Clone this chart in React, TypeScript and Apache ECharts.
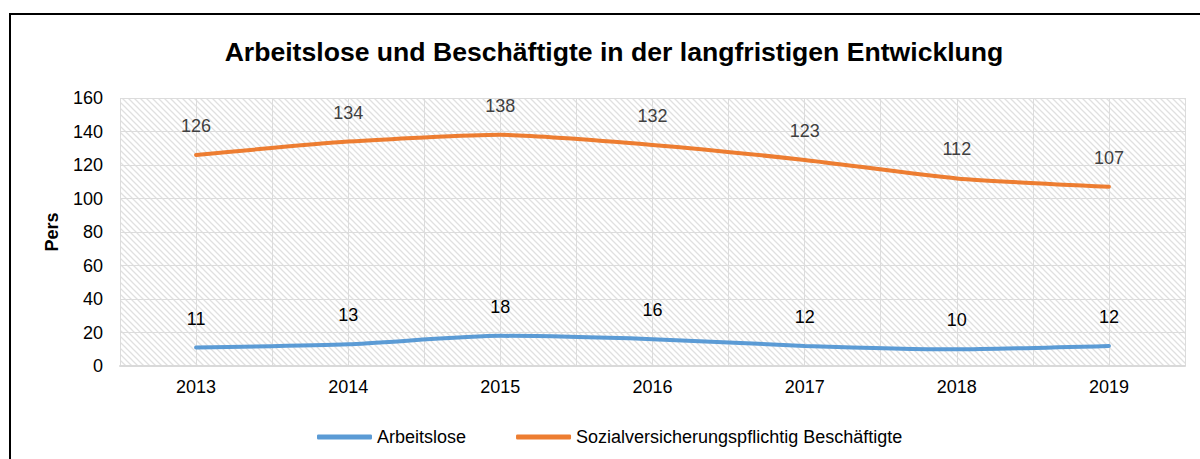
import React, { useEffect, useRef } from "react";
import * as echarts from "echarts";

const years = ["2013", "2014", "2015", "2016", "2017", "2018", "2019"];
const arbeitslose = [11, 13, 18, 16, 12, 10, 12];
const beschaeftigte = [126, 134, 138, 132, 123, 112, 107];
const titleText = "Arbeitslose und Beschäftigte in der langfristigen Entwicklung";
const yName = "Pers";
const seriesNames = ["Arbeitslose", "Sozialversicherungspflichtig Beschäftigte"];

const FONT = "'Liberation Sans', Arial, sans-serif";

const hatchSvg =
  "<svg xmlns='http://www.w3.org/2000/svg' width='6' height='6'>" +
  "<path d='M-1,-1 L7,7 M-1,5 L1,7 M5,-1 L7,1' stroke='#e0e0e0' stroke-width='1.3'/></svg>";
const hatchUrl = "data:image/svg+xml;charset=utf-8," + encodeURIComponent(hatchSvg);

export default function App() {
  const ref = useRef<HTMLDivElement>(null);
  useEffect(() => {
    if (!ref.current) return;
    const chart = echarts.init(ref.current, undefined, { renderer: "svg" });
    const labelCommon = {
      show: true,
      position: "top",
      distance: 20,
      fontFamily: FONT,
      fontSize: 18,
    };
    chart.setOption({
      animation: false,
      backgroundColor: "#ffffff",
      title: {
        text: titleText,
        left: 609,
        top: 33,
        textAlign: "center",
        textStyle: { fontFamily: FONT, fontSize: 26.6, fontWeight: "bold", color: "#000" },
      },
      legend: {
        left: 312,
        top: 423,
        itemWidth: 55,
        itemHeight: 5,
        itemGap: 50,
        icon: "roundRect",
        textStyle: { fontFamily: FONT, fontSize: 18, color: "#000" },
        data: seriesNames,
      },
      grid: {
        left: 120,
        right: 15,
        top: 98,
        height: 268,
        show: true,
        borderWidth: 0,
        backgroundColor: { image: hatchUrl, repeat: "repeat" } as any,
      },
      xAxis: [
        {
          type: "category",
          data: years,
          boundaryGap: true,
          axisLine: { show: true, lineStyle: { color: "#d9d9d9", width: 2 } },
          axisTick: { show: false },
          splitLine: { show: false },
          axisLabel: { fontFamily: FONT, fontSize: 18, color: "#000", margin: 12 },
        },
        {
          type: "value",
          min: 0,
          max: 14,
          interval: 1,
          position: "bottom",
          axisLine: { show: false },
          axisTick: { show: false },
          axisLabel: { show: false },
          splitLine: { show: true, lineStyle: { color: "#dcdcdc", width: 1 } },
        },
      ],
      yAxis: {
        type: "value",
        min: 0,
        max: 160,
        interval: 20,
        name: yName,
        nameLocation: "middle",
        nameGap: 59,
        nameRotate: 90,
        nameTextStyle: { fontFamily: FONT, fontSize: 18, fontWeight: "bold", color: "#000" },
        axisLine: { show: false },
        axisTick: { show: false },
        axisLabel: { fontFamily: FONT, fontSize: 18, color: "#000", margin: 17 },
        splitLine: { show: true, lineStyle: { color: "#dcdcdc", width: 1 } },
      },
      series: [
        {
          name: seriesNames[0],
          type: "line",
          data: arbeitslose,
          xAxisIndex: 0,
          smooth: 0.2,
          symbol: "circle",
          symbolSize: 0,
          showSymbol: true,
          lineStyle: { color: "#5b9bd5", width: 4, cap: "round" },
          itemStyle: { color: "#5b9bd5" },
          label: { ...labelCommon, color: "#000" },
        },
        {
          name: seriesNames[1],
          type: "line",
          data: beschaeftigte,
          xAxisIndex: 0,
          smooth: 0.2,
          symbol: "circle",
          symbolSize: 0,
          showSymbol: true,
          lineStyle: { color: "#ed7d31", width: 4, cap: "round" },
          itemStyle: { color: "#ed7d31" },
          label: { ...labelCommon, color: "#404040" },
        },
      ],
      graphic: [
        {
          type: "rect",
          shape: { x: 10, y: 14, width: 1250, height: 500 },
          style: { fill: "none", stroke: "#000", lineWidth: 2 },
          silent: true,
          z: 100,
        },
      ],
    });
    return () => chart.dispose();
  }, []);
  return (
    <div
      ref={ref}
      style={{ position: "fixed", left: 0, top: 0, width: 1200, height: 459 }}
    />
  );
}
